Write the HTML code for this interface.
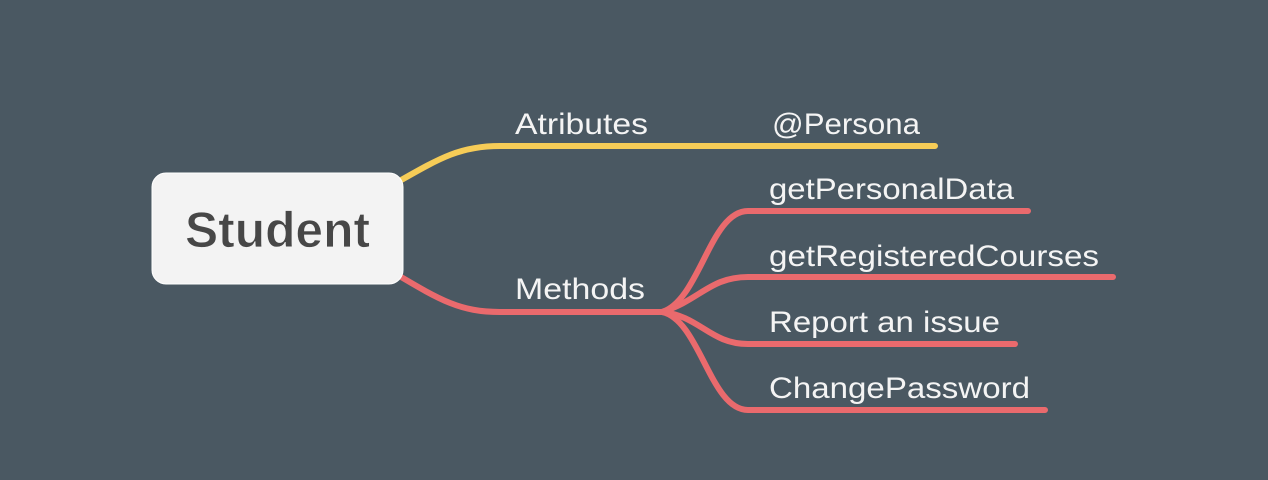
<!DOCTYPE html>
<html><head><style>
html,body{margin:0;padding:0;background:#4a5862;}
svg{display:block}
text{font-family:"Liberation Sans",sans-serif;fill:#f4f4f4;font-size:30px}
</style></head><body>
<svg width="1268" height="480" viewBox="0 0 1268 480">
<rect width="1268" height="480" fill="#4a5862"/>
<g fill="none" stroke-linecap="round" stroke-width="6">
<path d="M396 183 C440 158 460 146 500 146 L935 146" stroke="#f6cc57"/>
<g stroke="#ea6a6d">
<path d="M396 274 C440 300 460 312 500 312 L662 312"/>
<path d="M662 312 C700 300 710 211 748 211 L1028 211"/>
<path d="M662 312 C700 300 710 277 748 277 L1113 277"/>
<path d="M662 312 C700 316 710 344 748 344 L1015 344"/>
<path d="M662 312 C700 320 710 410 748 410 L1045 410"/>
</g>
</g>
<rect x="152" y="173" width="251" height="111" rx="14" fill="#f3f3f3" stroke="#fff" stroke-width="1"/>
<text x="185" y="247" textLength="185" lengthAdjust="spacingAndGlyphs" style="font-size:50px;fill:#474747;font-weight:bold;stroke:#f3f3f3;stroke-width:0.8">Student</text>
<text x="515" y="134" textLength="133" lengthAdjust="spacingAndGlyphs">Atributes</text>
<text x="772" y="134" textLength="148" lengthAdjust="spacingAndGlyphs">@Persona</text>
<text x="515" y="299" textLength="130" lengthAdjust="spacingAndGlyphs">Methods</text>
<text x="769" y="199" textLength="245" lengthAdjust="spacingAndGlyphs">getPersonalData</text>
<text x="769" y="266" textLength="330" lengthAdjust="spacingAndGlyphs">getRegisteredCourses</text>
<text x="769" y="332" textLength="231" lengthAdjust="spacingAndGlyphs">Report an issue</text>
<text x="769" y="398" textLength="261" lengthAdjust="spacingAndGlyphs">ChangePassword</text>
</svg>
</body></html>
